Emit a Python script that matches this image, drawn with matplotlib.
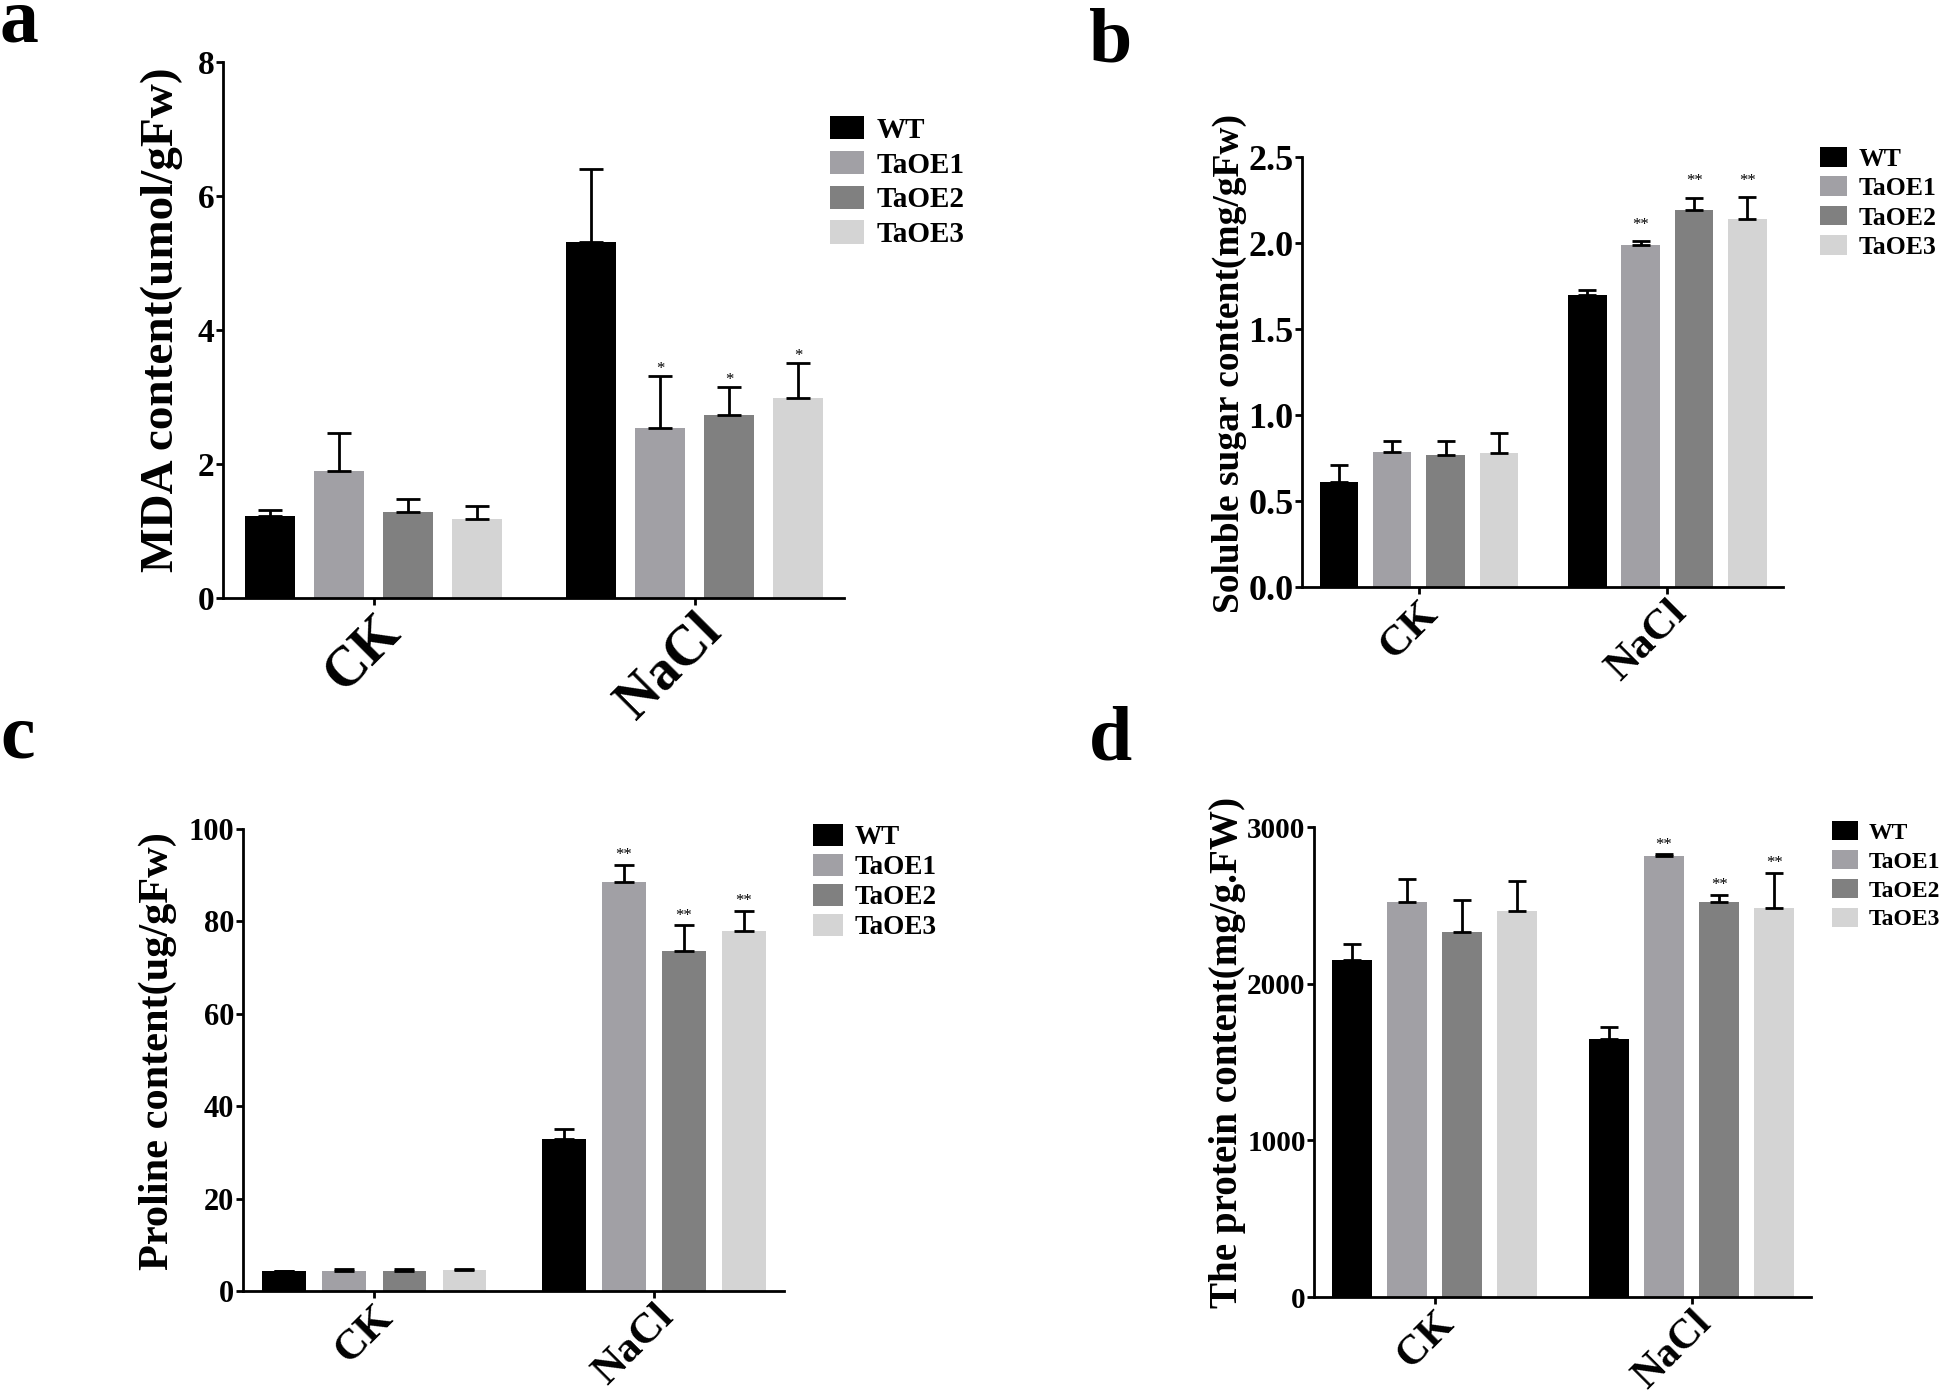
import numpy as np
import matplotlib
matplotlib.use('Agg')
import matplotlib.pyplot as plt
from matplotlib.patches import Patch
from matplotlib.transforms import ScaledTranslation

plt.rcParams['font.family'] = ['Liberation Serif', 'DejaVu Serif']
plt.rcParams['font.weight'] = 'bold'

grupos = ['CK', 'NaCl']
linhagens = ['WT', 'TaOE1', 'TaOE2', 'TaOE3']
cores = ['#000000', '#a1a0a5', '#808080', '#d4d4d4']

# a - MDA
mda_ck = [1.22, 1.90, 1.28, 1.18]
mda_ck_err = [0.10, 0.57, 0.20, 0.19]
mda_nacl = [5.31, 2.53, 2.73, 2.99]
mda_nacl_err = [1.10, 0.79, 0.42, 0.52]
mda_sig = ['', '*', '*', '*']

# b - acucar soluvel
acucar_ck = [0.612, 0.787, 0.766, 0.781]
acucar_ck_err = [0.097, 0.060, 0.085, 0.112]
acucar_nacl = [1.696, 1.986, 2.194, 2.140]
acucar_nacl_err = [0.033, 0.024, 0.068, 0.127]
acucar_sig = ['', '**', '**', '**']

# c - prolina
prolina_ck = [4.3, 4.4, 4.3, 4.5]
prolina_ck_err = [0.1, 0.3, 0.4, 0.3]
prolina_nacl = [32.8, 88.6, 73.7, 78.0]
prolina_nacl_err = [2.3, 3.6, 5.5, 4.3]
prolina_sig = ['', '**', '**', '**']

# d - proteina
proteina_ck = [2153, 2521, 2332, 2466]
proteina_ck_err = [102, 149, 204, 187]
proteina_nacl = [1645, 2813, 2521, 2481]
proteina_nacl_err = [76, 13, 45, 228]
proteina_sig = ['', '**', '**', '**']

W, H = 1946, 1399
fig = plt.figure(figsize=(W / 100, H / 100), dpi=100)

XLIM = (-0.47, 1.465)
PASSO = 0.2146
LARG = 0.155


def eixo_px(l, t, r, b):
    return fig.add_axes([l / W, 1 - b / H, (r - l) / W, (b - t) / H])


def painel(ax, ck, ck_err, nacl, nacl_err, sig, ylim, yticks, fmt, ylabel,
           ylabel_size, ylabel_x, ytick_size, xtick_size, capsize, star_off,
           leg_pos, leg_size, leg_hl, leg_hh, leg_sp):
    for i in range(4):
        xs = np.array([0, 1]) + (i - 1.5) * PASSO
        vals = [ck[i], nacl[i]]
        errs = [ck_err[i], nacl_err[i]]
        ax.bar(xs, vals, width=LARG, color=cores[i], linewidth=0, zorder=2,
               label=linhagens[i])
        ax.errorbar(xs, vals, yerr=[[0, 0], errs], fmt='none', ecolor='black',
                    elinewidth=2, capsize=capsize, capthick=2, zorder=3)
        if sig[i]:
            ax.annotate(sig[i], xy=(xs[1], nacl[i] + nacl_err[i]),
                        xytext=(0, star_off), textcoords='offset points',
                        ha='center', va='baseline', fontsize=12,
                        fontweight='normal')

    ax.set_xlim(*XLIM)
    ax.set_ylim(*ylim)
    ax.set_yticks(yticks)
    ax.set_yticklabels([fmt.format(v) for v in yticks])
    ax.set_xticks([0, 1])
    ax.set_xticklabels(grupos, rotation=45, ha='right', va='top',
                       rotation_mode='anchor', fontsize=xtick_size)
    desloc = ScaledTranslation(-0.17 * xtick_size / 72, 0.11 * xtick_size / 72,
                               fig.dpi_scale_trans)
    for rot in ax.get_xticklabels():
        rot.set_transform(rot.get_transform() + desloc)

    for lado in ['top', 'right']:
        ax.spines[lado].set_visible(False)
    for lado in ['left', 'bottom']:
        ax.spines[lado].set_linewidth(2)
    ax.tick_params(axis='y', labelsize=ytick_size, width=2, length=5, pad=1)
    ax.tick_params(axis='x', width=2, length=5, pad=0)

    ax.set_ylabel(ylabel, fontsize=ylabel_size, fontweight='bold')
    ax.yaxis.label.set_verticalalignment('center')
    ax.yaxis.set_label_coords(ylabel_x, 0.52)

    handles = [Patch(facecolor=c, edgecolor='none') for c in cores]
    ax.legend(handles, linhagens, loc='upper left',
              bbox_to_anchor=(leg_pos[0] / W, 1 - leg_pos[1] / H),
              bbox_transform=fig.transFigure, frameon=False, borderpad=0,
              borderaxespad=0, fontsize=leg_size, handlelength=leg_hl,
              handleheight=leg_hh, handletextpad=0.45, labelspacing=leg_sp)


ax_a = eixo_px(222.7, 62, 844, 598)
painel(ax_a, mda_ck, mda_ck_err, mda_nacl, mda_nacl_err, mda_sig,
       (0, 8), [0, 2, 4, 6, 8], '{:.0f}', 'MDA content(umol/gFw)',
       34, (162 - 222.7) / (844 - 222.7), 24, 40, 8.3, 2,
       (830, 116), 21, 1.16, 0.86, 0.24)

ax_b = eixo_px(1302, 157, 1783, 587)
painel(ax_b, acucar_ck, acucar_ck_err, acucar_nacl, acucar_nacl_err, acucar_sig,
       (0, 2.5), [0, 0.5, 1.0, 1.5, 2.0, 2.5], '{:.1f}',
       'Soluble sugar content(mg/gFw)',
       27, (1229 - 1302) / (1783 - 1302), 26, 31, 6.3, 9,
       (1820, 147), 18.5, 1.05, 0.8, 0.22)

ax_c = eixo_px(242.7, 829, 784, 1291)
painel(ax_c, prolina_ck, prolina_ck_err, prolina_nacl, prolina_nacl_err,
       prolina_sig, (0, 100), [0, 20, 40, 60, 80, 100], '{:.0f}',
       'Proline content(ug/gFw)',
       30.5, (157.5 - 242.7) / (784 - 242.7), 22, 31, 7.2, 4,
       (813, 824), 19.5, 1.1, 0.85, 0.14)

ax_d = eixo_px(1314, 827, 1811, 1297)
painel(ax_d, proteina_ck, proteina_ck_err, proteina_nacl, proteina_nacl_err,
       proteina_sig, (0, 3000), [0, 1000, 2000, 3000], '{:.0f}',
       'The protein content(mg/g.FW)',
       28.2, (1228 - 1314) / (1811 - 1314), 21, 30, 6.6, 4,
       (1832, 821), 17, 1.1, 0.85, 0.27)

for letra, x, y in [('a', 0, 42), ('b', 1089, 62), ('c', 0, 758), ('d', 1089, 759)]:
    fig.text(x / W, 1 - y / H, letra, fontsize=56, fontweight='bold',
             ha='left', va='baseline')

fig.savefig('out.png', dpi=100)
